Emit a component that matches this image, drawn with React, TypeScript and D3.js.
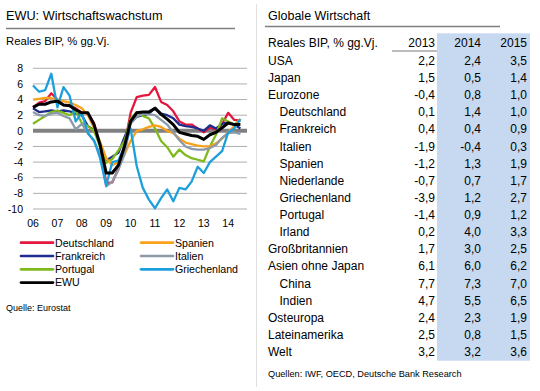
import React from 'react';
import * as d3 from 'd3';

// quarterly series, 2006Q1 .. 2014Q3
const startYear = 2006;
const yearLabels = ['06', '07', '08', '09', '10', '11', '12', '13', '14'];
const yTicks = [8, 6, 4, 2, 0, -2, -4, -6, -8, -10];

const deutschland = [3.0, 3.6, 3.8, 4.8, 4.0, 3.3, 3.3, 2.9, 2.3, 2.3, 1.0, -1.8, -6.7, -6.6, -4.8, -1.8, 2.3, 4.3, 4.5, 4.6, 5.6, 3.7, 3.3, 2.5, 1.2, 0.8, 0.8, 0.3, -0.2, 0.4, 0.2, 0.9, 2.3, 1.4, 1.3];
const frankreich = [2.9, 2.4, 2.5, 2.6, 2.5, 2.6, 2.5, 2.2, 2.0, 0.6, 0.1, -1.6, -3.8, -3.3, -2.8, -0.8, 1.0, 1.8, 2.0, 2.2, 2.9, 2.2, 2.0, 1.6, 0.8, 0.6, 0.5, 0.3, 0.0, 0.7, 0.3, 0.9, 1.1, 0.8, 0.3];
const portugal = [0.9, 1.4, 1.9, 2.4, 2.6, 2.3, 2.0, 2.5, 1.0, 0.6, 0.0, -2.0, -4.1, -3.6, -2.5, -1.3, 1.5, 2.4, 1.9, 1.6, 0.3, -1.3, -2.1, -3.3, -2.4, -3.1, -3.5, -3.7, -3.9, -2.0, -0.5, 1.6, 1.2, 0.8, 1.4];
const spanien = [4.0, 4.1, 4.2, 4.2, 4.0, 3.8, 3.6, 3.3, 2.9, 2.0, 0.4, -1.4, -3.5, -4.4, -4.0, -3.0, -1.3, 0.0, 0.2, 0.5, 0.7, 0.5, 0.0, -0.3, -1.0, -1.5, -1.7, -1.9, -2.0, -2.0, -1.6, -1.0, -0.2, 0.6, 1.5];
const italien = [2.4, 2.0, 1.9, 2.2, 2.3, 1.9, 1.6, 0.2, 0.9, -0.3, -1.3, -3.0, -7.1, -6.5, -5.0, -3.0, 0.9, 1.8, 2.2, 2.1, 2.0, 1.4, 0.8, -0.2, -1.2, -2.0, -2.3, -2.4, -2.4, -2.2, -1.8, -0.9, -0.3, -0.2, -0.4];
const griechenland = [5.8, 5.0, 5.2, 7.3, 3.0, 5.6, 4.5, 1.2, 2.3, -0.3, -1.2, -3.5, -7.0, -4.0, -3.8, -2.0, 0.3, -4.5, -7.3, -8.8, -9.9, -8.6, -7.5, -9.0, -7.3, -7.5, -6.5, -4.6, -5.4, -4.0, -3.3, -2.6, -0.2, 0.3, 1.5];
const ewu = [3.0, 3.4, 3.4, 3.7, 3.8, 3.3, 3.2, 2.7, 2.3, 2.3, 0.8, -1.8, -5.4, -5.4, -4.4, -2.0, 1.2, 2.3, 2.4, 2.4, 2.9, 2.1, 1.5, 0.8, -0.2, -0.4, -0.6, -0.7, -1.1, -0.5, -0.2, 0.4, 1.0, 0.8, 0.8];

const series = [
  { name: 'Deutschland', color: '#e4173f', values: deutschland },
  { name: 'Frankreich', color: '#1e2d8c', values: frankreich },
  { name: 'Portugal', color: '#7fba1c', values: portugal },
  { name: 'Spanien', color: '#f8a21c', values: spanien },
  { name: 'Italien', color: '#8b99a8', values: italien },
  { name: 'Griechenland', color: '#1d9fdc', values: griechenland },
  { name: 'EWU', color: '#000000', values: ewu },
];
const legendOrder = ['Deutschland', 'Spanien', 'Frankreich', 'Italien', 'Portugal', 'Griechenland', 'EWU'];

// table
const rowNames = ['USA', 'Japan', 'Eurozone', 'Deutschland', 'Frankreich', 'Italien', 'Spanien', 'Niederlande', 'Griechenland', 'Portugal', 'Irland', 'Großbritannien', 'Asien ohne Japan', 'China', 'Indien', 'Osteuropa', 'Lateinamerika', 'Welt'];
const rowIndent = [false, false, false, true, true, true, true, true, true, true, true, false, false, true, true, false, false, false];
const colYears = ['2013', '2014', '2015'];
const v2013 = ['2,2', '1,5', '-0,4', '0,1', '0,4', '-1,9', '-1,2', '-0,7', '-3,9', '-1,4', '0,2', '1,7', '6,1', '7,7', '4,7', '2,4', '2,5', '3,2'];
const v2014 = ['2,4', '0,5', '0,8', '1,4', '0,4', '-0,4', '1,3', '0,7', '1,2', '0,9', '4,0', '3,0', '6,0', '7,3', '5,5', '2,3', '0,8', '3,2'];
const v2015 = ['3,5', '1,4', '1,0', '1,0', '0,9', '0,3', '1,9', '1,7', '2,7', '1,2', '3,3', '2,5', '6,2', '7,0', '6,5', '1,9', '1,5', '3,6'];

const font = "'Liberation Sans', Arial, sans-serif";

export default function App() {
  const x = d3.scaleLinear().domain([2006, 2014.75]).range([33, 246.5]);
  const y = d3.scaleLinear().domain([-10, 8]).range([209, 68.3]);
  const line = d3
    .line<number>()
    .x((_, i) => x(startYear + i * 0.25))
    .y((d) => y(d));

  const rowY = d3.scaleLinear().domain([0, rowNames.length - 1]).range([60.7, 351.7]);
  const colRight = [435, 481, 527];
  const colVals = [v2013, v2014, v2015];

  return (
    <div style={{ position: 'fixed', left: 0, top: 0 }}>
      <svg width={540} height={391} style={{ display: 'block', background: '#fff' }} fontFamily={font}>
        {/* left panel */}
        <text x={6} y={19.5} fontSize={12.7} fill="#000">EWU: Wirtschaftswachstum</text>
        <line x1={6} x2={235} y1={28.5} y2={28.5} stroke="#7f7f7f" strokeWidth={1.5} />
        <text x={6} y={45} fontSize={11.3} fill="#000">Reales BIP, % gg.Vj.</text>

        {yTicks.map((t) => (
          <g key={t}>
            {t !== 0 && (
              <line x1={33} x2={247} y1={y(t)} y2={y(t)} stroke="#9a9a9a" strokeWidth={0.8} />
            )}
            <text x={23} y={y(t) + 3.7} fontSize={10.5} textAnchor="end" fill="#000">{t}</text>
          </g>
        ))}
        <line x1={33} x2={247} y1={y(0)} y2={y(0)} stroke="#808080" strokeWidth={4} />
        {yearLabels.map((l, i) => (
          <text key={l} x={x(startYear + i)} y={226.5} fontSize={10.5} textAnchor="middle" fill="#000">{l}</text>
        ))}

        {series.map((s) => (
          <path
            key={s.name}
            d={line(s.values) || ''}
            fill="none"
            stroke={s.color}
            strokeWidth={s.name === 'EWU' ? 3 : 2.3}
            strokeLinejoin="round"
          />
        ))}

        {legendOrder.map((name, i) => {
          const s = series.find((d) => d.name === name)!;
          const col = i % 2;
          const row = Math.floor(i / 2);
          const lx = col === 0 ? 21 : 141;
          const ly = 242.7 + row * 13.3;
          return (
            <g key={name}>
              <line x1={lx} x2={lx + 32} y1={ly} y2={ly} stroke={s.color} strokeWidth={2.7} strokeLinecap="round" />
              <text x={lx + 34} y={ly + 3.8} fontSize={10.6} fill="#000">{name}</text>
            </g>
          );
        })}
        <text x={6} y={311} fontSize={9} fill="#000">Quelle: Eurostat</text>

        <line x1={256.5} x2={256.5} y1={4} y2={387} stroke="#e0e0e0" strokeWidth={1} />

        {/* right panel */}
        <text x={268} y={19.5} fontSize={12.5} fill="#000">Globale Wirtschaft</text>
        <line x1={265} x2={500} y1={26.5} y2={26.5} stroke="#7f7f7f" strokeWidth={1.5} />
        <rect x={437} y={33.3} width={93} height={327.4} fill="#c6d9f1" />
        <text x={268} y={46.5} fontSize={12} fill="#000">Reales BIP, % gg.Vj.</text>
        {colYears.map((c, i) => (
          <text key={c} x={colRight[i]} y={46.5} fontSize={12} textAnchor="end" fill="#000">{c}</text>
        ))}
        <line x1={392} x2={437} y1={51} y2={51} stroke="#595959" strokeWidth={0.8} />

        {rowNames.map((name, r) => (
          <g key={name}>
            <text x={rowIndent[r] ? 279.5 : 268} y={rowY(r) + 4.3} fontSize={12} fill="#000">{name}</text>
            {colVals.map((vals, c) => (
              <text key={c} x={colRight[c]} y={rowY(r) + 4.3} fontSize={12} textAnchor="end" fill="#000">{vals[r]}</text>
            ))}
          </g>
        ))}
        <text x={268} y={376.5} fontSize={9.2} fill="#000">Quellen: IWF, OECD, Deutsche Bank Research</text>
      </svg>
    </div>
  );
}
